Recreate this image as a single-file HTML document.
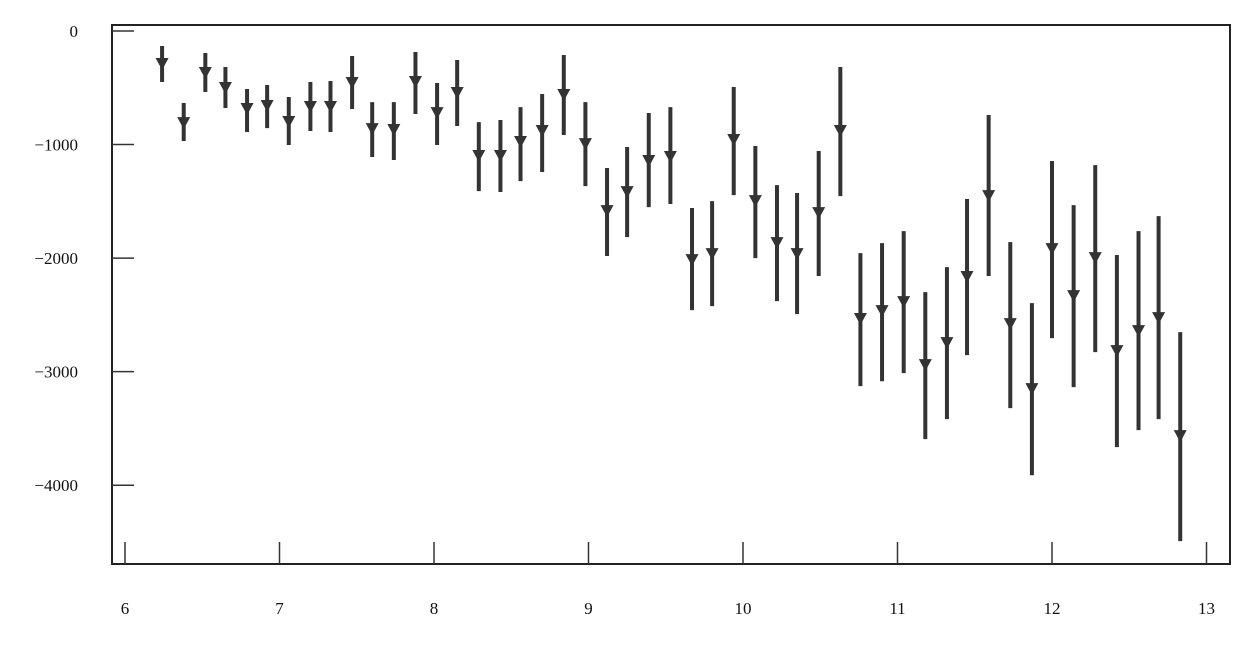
<!DOCTYPE html>
<html><head><meta charset="utf-8"><style>
html,body{margin:0;padding:0;background:#fff;}
svg text{font-family:"Liberation Serif",serif;font-size:17px;fill:#111;}
</style></head><body>
<svg id="chart" width="1252" height="643" xmlns="http://www.w3.org/2000/svg">
<g id="axes"></g>
<g id="marks"></g>
</svg>
<script>
const xVals=[6.24,6.38,6.52,6.65,6.79,6.92,7.06,7.2,7.33,7.47,7.6,7.74,7.88,8.02,8.15,8.29,8.43,8.56,8.7,8.84,8.98,9.12,9.25,9.39,9.53,9.67,9.8,9.94,10.08,10.22,10.35,10.49,10.63,10.76,10.9,11.04,11.18,11.32,11.45,11.59,11.73,11.87,12.0,12.14,12.28,12.42,12.56,12.69,12.83];
const yVals=[-282,-802,-361,-493,-678,-652,-793,-661,-661,-449,-855,-863,-440,-714,-537,-1092,-1092,-969,-872,-555,-987,-1577,-1410,-1136,-1101,-2009,-1956,-951,-1489,-1859,-1956,-1595,-872,-2528,-2458,-2379,-2934,-2740,-2158,-1445,-2573,-3145,-1912,-2326,-1991,-2810,-2634,-2520,-3559];
const yHigh=[-132,-634,-194,-317,-511,-476,-581,-449,-440,-220,-626,-626,-185,-458,-255,-802,-784,-670,-555,-211,-626,-1207,-1022,-722,-670,-1559,-1498,-493,-1013,-1357,-1427,-1057,-317,-1956,-1868,-1762,-2300,-2079,-1480,-740,-1859,-2396,-1145,-1533,-1181,-1973,-1762,-1630,-2652];
const yLow=[-449,-969,-537,-678,-890,-855,-1004,-881,-890,-687,-1110,-1136,-731,-1004,-837,-1410,-1418,-1322,-1242,-916,-1366,-1982,-1815,-1551,-1524,-2458,-2423,-1445,-2000,-2379,-2493,-2158,-1454,-3128,-3084,-3013,-3594,-3418,-2854,-2158,-3321,-3912,-2705,-3136,-2828,-3665,-3515,-3418,-4493];
const xTicks=[6,7,8,9,10,11,12,13];
const yTicks=[0,-1000,-2000,-3000,-4000];
const yTickLabels=["0","\u22121000","\u22122000","\u22123000","\u22124000"];

const L=112,R=1230,T=25,B=564;
const sx=v=>125+(v-6)*154.5;
const sy=v=>31-v*0.11355;
const NS="http://www.w3.org/2000/svg";
function mk(tag,attrs,parent){const e=document.createElementNS(NS,tag);for(const k in attrs)e.setAttribute(k,attrs[k]);parent.appendChild(e);return e;}
const ax=document.getElementById('axes'),mg=document.getElementById('marks');
let f=mk('rect',{x:L,y:T,width:R-L,height:B-T,fill:'none',stroke:'#222','stroke-width':2},ax);


xTicks.forEach(t=>{
 let l=mk('line',{x1:sx(t),x2:sx(t),y1:B,y2:B-22,stroke:'#333','stroke-width':1.5},ax);
 
 
 let tx=mk('text',{x:sx(t),y:614,'text-anchor':'middle'},ax);tx.textContent=t;
 
 
});
yTicks.forEach((t,i)=>{
 let l=mk('line',{x1:L,x2:L+22,y1:sy(t),y2:sy(t),stroke:'#333','stroke-width':1.5},ax);
 
 
 let tx=mk('text',{x:78,y:sy(t)+6,'text-anchor':'end'},ax);tx.textContent=yTickLabels[i];
 
 
});
xVals.forEach((xv,i)=>{
 const x=sx(xv),y=sy(yVals[i]);
 let l=mk('line',{x1:x,x2:x,y1:sy(yHigh[i]),y2:sy(yLow[i]),stroke:'#333','stroke-width':4},mg);
 
 
 let p=mk('polygon',{points:`${x-6.5},${y-5} ${x+6.5},${y-5} ${x},${y+7}`,fill:'#333'},mg);
 
 
});
</script>
</body></html>
